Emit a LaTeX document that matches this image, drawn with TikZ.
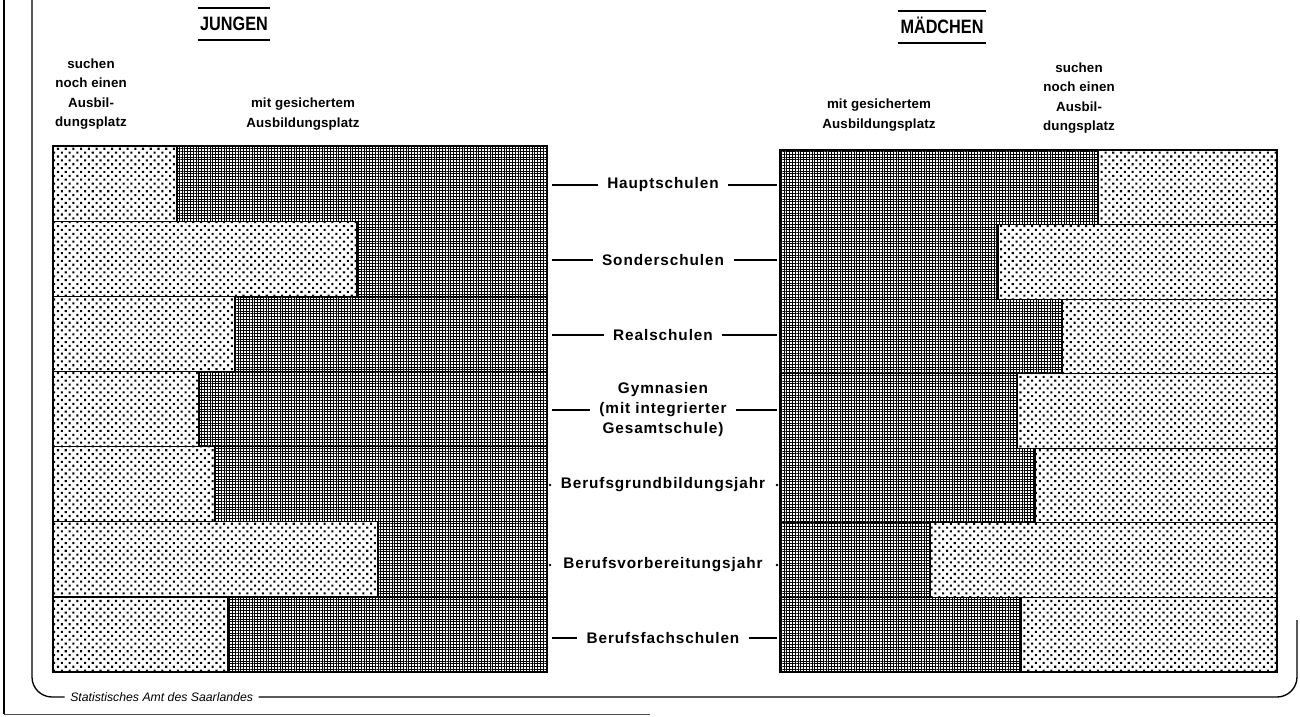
\documentclass[tikz,border=0pt]{standalone}
\usepackage{fontspec}
\setmainfont{Liberation Sans}
\newfontfamily\lblfont{Liberation Sans}[LetterSpace=6]
\newfontfamily\headfont{Liberation Sans}[LetterSpace=1]
\newfontfamily\titlefont{Liberation Sans}[FakeStretch=0.84]
\usetikzlibrary{patterns.meta}

\tikzset{
  sucht/.style={draw=black, line width=0.9pt, pattern={Dots[distance=4.1pt, radius=1.1pt, angle=45]}},
  sicher/.style={draw=black, line width=0.9pt, pattern={Hatch[distance=2.1pt, angle=0, line width=0.55pt]}},
  tick/.style={line width=1.3pt},
  lbl/.style={inner sep=0pt, align=center, font=\lblfont\bfseries\fontsize{11.5}{15}\selectfont},
  colhead/.style={inner sep=0pt, align=center, font=\headfont\bfseries\fontsize{10}{14.5}\selectfont},
  sex/.style={inner xsep=1.5pt, inner ysep=6.5pt, text height=10.5pt, text depth=0pt, font=\titlefont\bfseries\fontsize{14.5}{17}\selectfont},
  frame/.style={line width=1pt, rounded corners=15pt},
}

\begin{document}
\begin{tikzpicture}[x=0.75pt,y=0.75pt,yscale=-1,xscale=1]
        \useasboundingbox (0,0) rectangle (1300,717);
        %Frame
        \draw [line width=1.4pt] (4,0) -- (4,714) ;
        \draw [line width=0.7pt, black!70] (4,714) -- (650,714) ;
        \node (quelle) [anchor=west, inner sep=0pt, font=\itshape\fontsize{9.2}{11}\selectfont] at (70,697) {Statistisches Amt des Saarlandes};
        \draw [frame] (32,0) -- (32,697) -- ([xshift=-4pt]quelle.west) ;
        \draw [frame] ([xshift=4pt]quelle.east) -- (1297,697) -- (1297,620) ;
        % Headings
        \node (jungen) [sex] at (234,24) {JUNGEN};
        \draw [line width=1.2pt] (jungen.north west) -- (jungen.north east) ;
        \draw [line width=1.2pt] (jungen.south west) -- (jungen.south east) ;
        \node (maedchen) [sex] at (942,27) {MÄDCHEN};
        \draw [line width=1.2pt] (maedchen.north west) -- (maedchen.north east) ;
        \draw [line width=1.2pt] (maedchen.south west) -- (maedchen.south east) ;
        % Column heads
        \node (jsucht) [colhead] at (91,94) {suchen\\noch einen\\Ausbil-\\dungsplatz};
        \node (jsicher) [colhead] at (303,114) {mit gesichertem\\Ausbildungsplatz};
        \node (msicher) [colhead] at (879,115) {mit gesichertem\\Ausbildungsplatz};
        \node (msucht) [colhead] at (1079,98) {suchen\\noch einen\\Ausbil-\\dungsplatz};
        % Bars JUNGEN
        \foreach \s [count=\i] in {177,357,235,199,215,378,228}{
            \pgfmathsetmacro\ya{146+75.15*(\i-1)}
            \pgfmathsetmacro\yb{\ya+75.15}
            \path [sucht] (53,\ya) rectangle (\s,\yb);
            \path [sicher] (\s,\ya) rectangle (547,\yb);
        }
        % Bars MAEDCHEN
        \foreach \s [count=\i] in {1098,998,1062,1017,1035,930,1021}{
            \pgfmathsetmacro\ya{150+74.57*(\i-1)}
            \pgfmathsetmacro\yb{\ya+74.57}
            \path [sicher] (780,\ya) rectangle (\s,\yb);
            \path [sucht] (\s,\ya) rectangle (1277,\yb);
        }
        % School types
        \node (haupt) [lbl] at (663,185) {Hauptschulen};
        \node (sonder) [lbl] at (663,260) {Sonderschulen};
        \node (real) [lbl] at (663,335) {Realschulen};
        \node (gymn) [lbl] at (663,410) {Gymnasien\\(mit integrierter\\Gesamtschule)};
        \node (bgj) [lbl] at (663,485) {Berufsgrundbildungsjahr};
        \node (bvj) [lbl] at (663,565) {Berufsvorbereitungsjahr};
        \node (bfs) [lbl] at (663,638) {Berufsfachschulen};
        \foreach \n in {haupt,sonder,real,gymn,bfs}{
            \draw [tick] ([xshift=-7pt]\n.west) -- (\n.west -| 552,0) ;
            \draw [tick] ([xshift=7pt]\n.east) -- (\n.east -| 777,0) ;
        }
        \foreach \n in {bgj,bvj}{
            \fill (\n.west -| 550,0) circle (1.1pt) ;
            \fill (\n.east -| 777,0) circle (1.1pt) ;
        }
\end{tikzpicture}
\end{document}
